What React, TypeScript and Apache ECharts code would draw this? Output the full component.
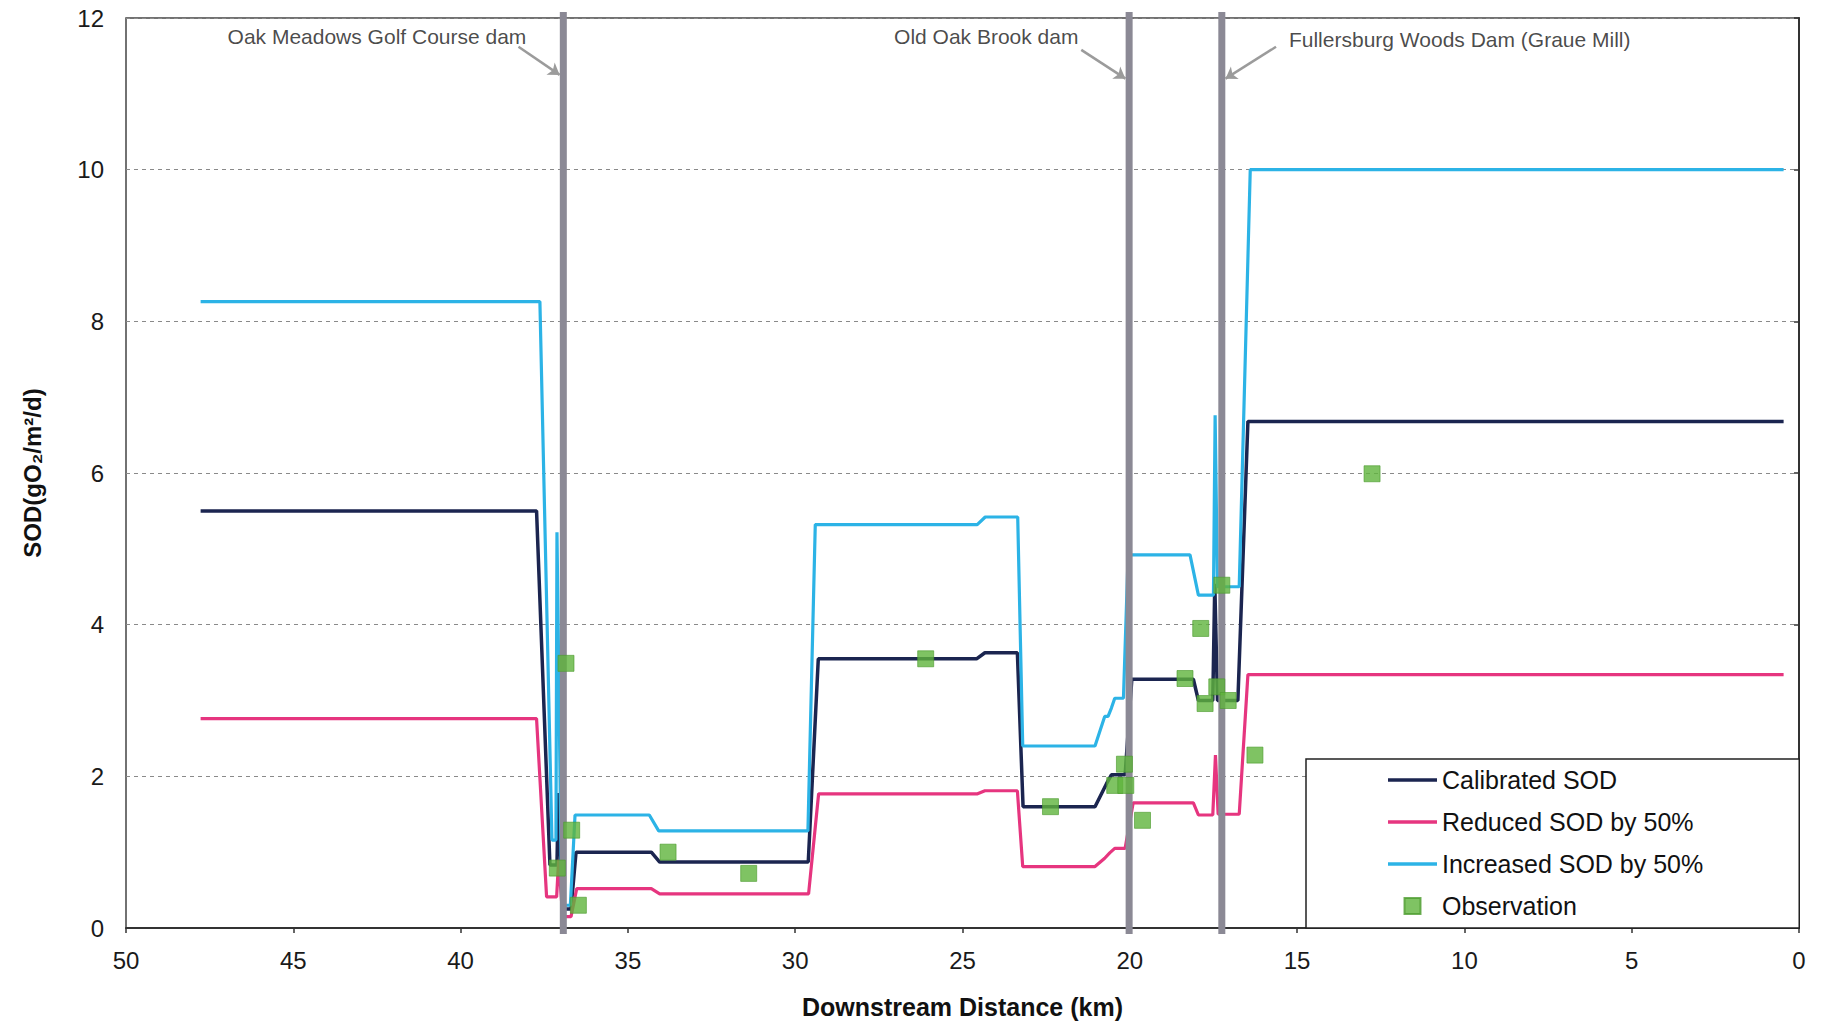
import React, { useEffect, useRef } from "react";
import * as echarts from "echarts";

// [downstream distance (km), SOD (gO2/m2/d)]
const calibratedSOD: [number, number][] = [
  [47.77, 5.5], [37.73, 5.5], [37.33, 0.83], [37.12, 0.83], [37.08, 1.78], [36.95, 0.25],
  [36.7, 0.25], [36.55, 1.0], [34.3, 1.0], [34.05, 0.87], [29.61, 0.87], [29.31, 3.55],
  [24.58, 3.55], [24.33, 3.63], [23.36, 3.63], [23.19, 1.6], [21.04, 1.6], [20.7, 1.9],
  [20.55, 2.02], [20.14, 2.02], [19.94, 3.28], [18.1, 3.28], [17.95, 3.0], [17.52, 3.0],
  [17.46, 4.54], [17.38, 3.0], [16.77, 3.0], [16.47, 6.68], [0.46, 6.68],
];

const reducedSOD: [number, number][] = [
  [47.77, 2.76], [37.73, 2.76], [37.43, 0.41], [37.13, 0.41], [37.07, 0.9], [36.95, 0.15],
  [36.7, 0.15], [36.53, 0.52], [34.3, 0.52], [34.05, 0.45], [29.6, 0.45], [29.3, 1.77],
  [24.55, 1.77], [24.33, 1.81], [23.36, 1.81], [23.2, 0.81], [21.04, 0.81], [20.75, 0.92],
  [20.6, 0.99], [20.45, 1.05], [20.14, 1.05], [19.9, 1.65], [18.1, 1.65], [17.95, 1.49],
  [17.52, 1.49], [17.44, 2.28], [17.36, 1.5], [16.73, 1.5], [16.47, 3.34], [0.46, 3.34],
];

const increasedSOD: [number, number][] = [
  [47.77, 8.26], [37.63, 8.26], [37.27, 1.16], [37.15, 1.16], [37.12, 5.22], [36.98, 0.3],
  [36.72, 0.3], [36.58, 1.49], [34.36, 1.49], [34.08, 1.28], [29.62, 1.28], [29.4, 5.32],
  [24.56, 5.32], [24.32, 5.42], [23.35, 5.42], [23.2, 2.4], [21.04, 2.4], [20.75, 2.79],
  [20.65, 2.79], [20.55, 2.9], [20.45, 3.03], [20.19, 3.03], [20.05, 4.92], [18.2, 4.92],
  [17.95, 4.39], [17.5, 4.39], [17.45, 6.76], [17.38, 4.5], [16.73, 4.5], [16.4, 10.0],
  [0.46, 10.0],
];

const obsKm = [37.11, 36.85, 36.68, 36.48, 33.8, 31.39, 26.1, 22.37, 20.45, 20.12, 20.16,
  19.62, 18.35, 17.88, 17.75, 17.4, 17.25, 17.06, 16.26, 12.76];
const obsValue = [0.79, 3.49, 1.29, 0.3, 1.0, 0.72, 3.55, 1.6, 1.88, 1.88, 2.16,
  1.42, 3.29, 3.95, 2.96, 3.18, 4.52, 3.0, 2.28, 5.99];

const damKm = [36.93, 20.02, 17.25];
const damNames = [
  "Oak Meadows Golf Course dam",
  "Old Oak Brook dam",
  "Fullersburg Woods Dam (Graue Mill)",
];
const damLabelAt: [number, number][] = [[42.5, 11.75], [24.29, 11.75], [10.14, 11.72]];
const damArrowFrom: [number, number][] = [[38.27, 11.62], [21.45, 11.58], [15.63, 11.62]];
const damArrowTo: [number, number][] = [[37.04, 11.25], [20.13, 11.2], [17.14, 11.2]];

const seriesNames = ["Calibrated SOD", "Reduced SOD by 50%", "Increased SOD by 50%", "Observation"];
const xAxisTitle = "Downstream Distance (km)";
const yAxisTitle = "SOD(gO\u2082/m\u00B2/d)";

const FONT = "'Liberation Sans', Arial, Helvetica, sans-serif";
const COLORS = {
  calibrated: "#1b2550",
  reduced: "#e6357f",
  increased: "#2cb3e6",
  obs: "#5fb43c",
  dam: "#8b8995",
};

export default function App() {
  const ref = useRef<HTMLDivElement>(null);

  useEffect(() => {
    if (!ref.current) return;
    const chart = echarts.init(ref.current, undefined, { renderer: "svg" });

    const lineIcon = "path://M0,0h49v3.5h-49z";
    const squareIcon = "path://M0,0h10v10h-10z";

    const damSeries = damKm.map((km, i) => ({
      name: "dam" + i,
      type: "line",
      data: [[km, -0.08], [km, 12.08]],
      symbol: "none",
      clip: false,
      silent: true,
      z: 3,
      lineStyle: { color: COLORS.dam, width: 7 },
    }));

    const option: any = {
      animation: false,
      backgroundColor: "#ffffff",
      textStyle: { fontFamily: FONT },
      grid: {
        left: 126,
        right: 29,
        top: 18,
        bottom: 99,
        show: true,
        borderColor: "#444",
        borderWidth: 1.5,
        backgroundColor: "#fff",
        outerBoundsMode: "none",
      },
      legend: {
        orient: "vertical",
        left: 1306,
        top: 759,
        padding: [7, 96, 8, 82],
        itemWidth: 49,
        itemHeight: 16,
        itemGap: 14,
        backgroundColor: "#fff",
        borderColor: "#222",
        borderWidth: 1.5,
        selectedMode: false,
        textStyle: { fontSize: 25, color: "#111", fontFamily: FONT, lineHeight: 28 },
        data: [
          { name: seriesNames[0], icon: lineIcon },
          { name: seriesNames[1], icon: lineIcon },
          { name: seriesNames[2], icon: lineIcon },
          { name: seriesNames[3], icon: squareIcon },
        ],
      },
      xAxis: {
        type: "value",
        inverse: true,
        min: 0,
        max: 50,
        interval: 5,
        name: xAxisTitle,
        nameLocation: "middle",
        nameGap: 66,
        nameTextStyle: { fontSize: 25, fontWeight: "bold", color: "#111", fontFamily: FONT },
        axisLine: { show: true, lineStyle: { color: "#333", width: 2 } },
        axisTick: { show: true, inside: false, length: 5, lineStyle: { color: "#333", width: 1.5 } },
        axisLabel: { fontSize: 24, color: "#1a1a1a", margin: 20, fontFamily: FONT },
        splitLine: { show: false },
      },
      yAxis: {
        type: "value",
        min: 0,
        max: 12,
        interval: 2,
        name: yAxisTitle,
        nameLocation: "middle",
        nameGap: 82,
        nameRotate: 90,
        nameTextStyle: { fontSize: 24, fontWeight: "bold", color: "#111", fontFamily: FONT },
        axisLine: { show: true, lineStyle: { color: "#333", width: 2 } },
        axisTick: { show: true, inside: false, length: 5, lineStyle: { color: "#333", width: 1.5 } },
        axisLabel: { fontSize: 24, color: "#1a1a1a", margin: 22, fontFamily: FONT },
        splitLine: { show: true, lineStyle: { color: "#8a8a8a", width: 1.2, type: [4, 4] } },
      },
      series: [
        {
          name: seriesNames[0],
          type: "line",
          data: calibratedSOD,
          symbol: "none",
          showSymbol: false,
          z: 2,
          color: COLORS.calibrated,
          lineStyle: { color: COLORS.calibrated, width: 3.5 },
        },
        {
          name: seriesNames[1],
          type: "line",
          data: reducedSOD,
          symbol: "none",
          showSymbol: false,
          z: 2,
          color: COLORS.reduced,
          lineStyle: { color: COLORS.reduced, width: 3.2 },
        },
        {
          name: seriesNames[2],
          type: "line",
          data: increasedSOD,
          symbol: "none",
          showSymbol: false,
          z: 2,
          color: COLORS.increased,
          lineStyle: { color: COLORS.increased, width: 3.2 },
        },
        ...damSeries,
        {
          name: seriesNames[3],
          type: "scatter",
          data: obsKm.map((km, i) => [km, obsValue[i]]),
          symbol: "rect",
          symbolSize: 16,
          z: 5,
          color: COLORS.obs,
          itemStyle: { color: COLORS.obs, borderColor: "#4d9c2f", borderWidth: 0.8 },
        },
        {
          name: "damLabels",
          type: "scatter",
          data: damNames.map((n, i) => ({ name: n, value: damLabelAt[i] })),
          symbol: "circle",
          symbolSize: 1,
          silent: true,
          z: 6,
          itemStyle: { color: "rgba(0,0,0,0)" },
          label: {
            show: true,
            position: "inside",
            formatter: "{b}",
            fontSize: 21,
            color: "#1a1a1a",
            fontFamily: FONT,
          },
          markLine: {
            silent: true,
            symbol: ["none", "arrow"],
            symbolSize: 11,
            label: { show: false },
            lineStyle: { color: "#9b9b9b", width: 2.5, type: "solid" },
            data: damArrowFrom.map((p, i) => [{ coord: p }, { coord: damArrowTo[i] }]),
          },
        },
      ],
    };

    chart.setOption(option);
    return () => chart.dispose();
  }, []);

  return (
    <div
      ref={ref}
      style={{ position: "fixed", left: 0, top: 0, width: 1828, height: 1027, background: "#fff" }}
    />
  );
}
